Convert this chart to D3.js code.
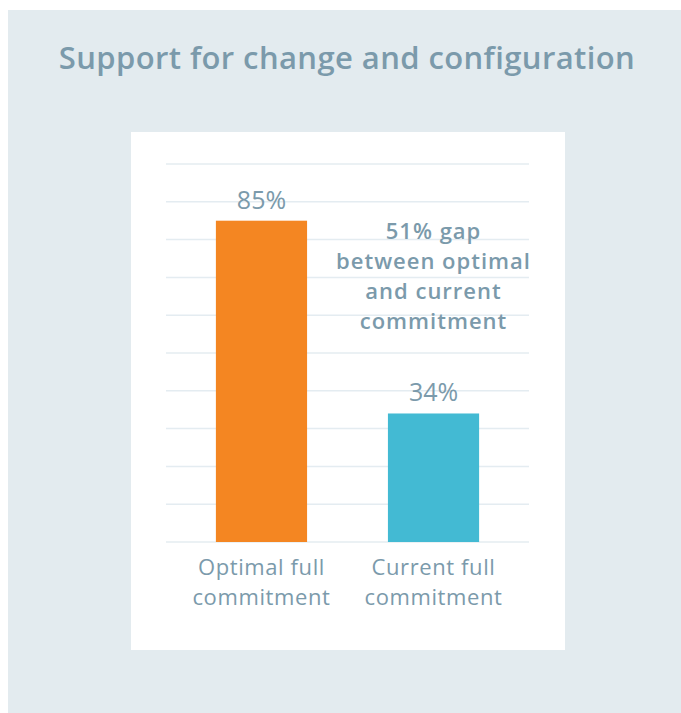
<!DOCTYPE html>
<html>
<head>
<meta charset="utf-8">
<script src="https://cdn.jsdelivr.net/npm/d3@7"></script>
<style>
  body { margin: 0; background: #ffffff; }
  svg { display: block; }
</style>
</head>
<body>
<script>
// data
const categories = [["Optimal full", "commitment"], ["Current full", "commitment"]];
const values = [85, 34];
const barColors = ["#f48622", "#43bad3"];
const gridTicks = [0, 10, 20, 30, 40, 50, 60, 70, 80, 90, 100];
const title = "Support for change and configuration";
const gapNote = ["51% gap", "between optimal", "and current", "commitment"];

// dimensions
const dms = {
  width: 681,
  height: 713,
  plot: { left: 166, right: 529, top: 164, bottom: 542 }
};

const textColor = "#7b9aab";
const font = "'Open Sans', sans-serif";

const svg = d3.select("body")
  .append("svg")
    .attr("width", dms.width)
    .attr("height", dms.height);

// outer panel
svg.append("rect")
  .attr("x", 8).attr("y", 10)
  .attr("width", dms.width - 8).attr("height", dms.height - 10)
  .attr("fill", "#e3ebef");

// inner white card
svg.append("rect")
  .attr("x", 131).attr("y", 132)
  .attr("width", 434).attr("height", 518)
  .attr("fill", "#ffffff");

svg.append("text")
  .attr("x", 347).attr("y", 69)
  .attr("text-anchor", "middle")
  .attr("font-family", font)
  .attr("font-weight", 600)
  .attr("font-size", 31)
  .attr("letter-spacing", 0.4)
  .attr("fill", textColor)
  .text(title);

// scales
const xScale = d3.scaleBand()
  .domain(d3.range(values.length))
  .range([dms.plot.left, dms.plot.right])
  .paddingInner(0.47)
  .paddingOuter(0.29);

const yScale = d3.scaleLinear()
  .domain([0, 100])
  .range([dms.plot.bottom, dms.plot.top]);

// gridlines
svg.append("g")
  .selectAll("line")
  .data(gridTicks)
  .join("line")
    .attr("x1", dms.plot.left)
    .attr("x2", dms.plot.right)
    .attr("y1", d => yScale(d))
    .attr("y2", d => yScale(d))
    .attr("stroke", "#e4ecf1")
    .attr("stroke-width", 1.5);

// bars
svg.append("g")
  .selectAll("rect")
  .data(values)
  .join("rect")
    .attr("x", (d, i) => xScale(i))
    .attr("y", d => yScale(d))
    .attr("width", xScale.bandwidth())
    .attr("height", d => yScale(0) - yScale(d))
    .attr("fill", (d, i) => barColors[i]);

// value labels
svg.append("g")
  .selectAll("text")
  .data(values)
  .join("text")
    .attr("x", (d, i) => xScale(i) + xScale.bandwidth() / 2)
    .attr("y", d => yScale(d) - 12)
    .attr("text-anchor", "middle")
    .attr("font-family", font)
    .attr("font-size", 25)
    .attr("fill", textColor)
    .text(d => d + "%");

// category labels
const catText = svg.append("g")
  .selectAll("text")
  .data(categories)
  .join("text")
    .attr("x", (d, i) => xScale(i) + xScale.bandwidth() / 2)
    .attr("y", 575)
    .attr("text-anchor", "middle")
    .attr("font-family", font)
    .attr("font-size", 22)
    .attr("letter-spacing", 0.6)
    .attr("fill", textColor);

catText.selectAll("tspan")
  .data(d => d)
  .join("tspan")
    .attr("x", function() { return this.parentNode.getAttribute("x"); })
    .attr("dy", (d, i) => i === 0 ? 0 : 30)
    .text(d => d);

// gap annotation
const noteX = xScale(1) + xScale.bandwidth() / 2;
svg.append("text")
  .attr("x", noteX)
  .attr("y", 239)
  .attr("text-anchor", "middle")
  .attr("font-family", font)
  .attr("font-weight", 600)
  .attr("font-size", 22)
  .attr("letter-spacing", 1)
  .attr("fill", textColor)
  .selectAll("tspan")
  .data(gapNote)
  .join("tspan")
    .attr("x", noteX)
    .attr("dy", (d, i) => i === 0 ? 0 : 30)
    .text(d => d);
</script>
</body>
</html>
